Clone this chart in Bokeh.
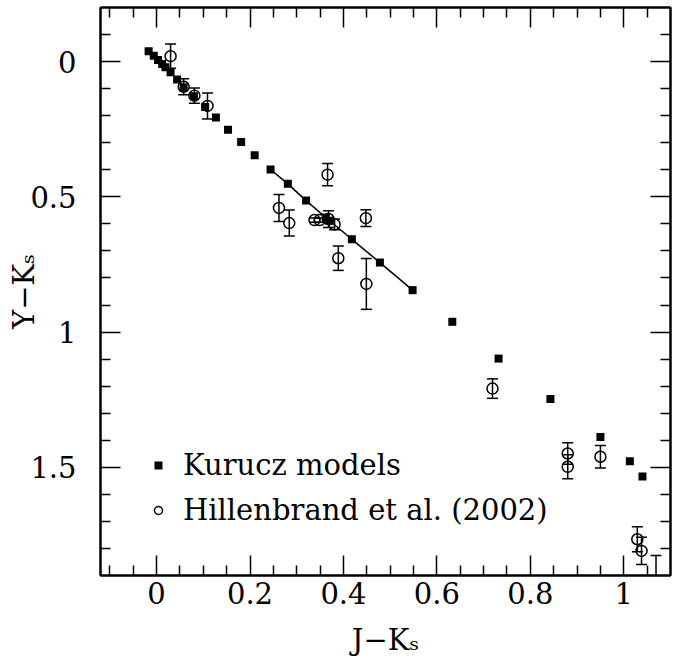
from bokeh.plotting import figure
from bokeh.models import (Range1d, LinearAxis, FixedTicker, Legend, LegendItem)
from bokeh.embed import file_html
from bokeh.resources import INLINE

# ---- data ----
kurucz_jk = [-0.017, -0.006, 0.003, 0.012, 0.019, 0.030, 0.044, 0.058, 0.080, 0.104,
             0.127, 0.153, 0.181, 0.210, 0.244, 0.281, 0.320, 0.362, 0.370, 0.418,
             0.478, 0.548, 0.633, 0.732, 0.843, 0.950, 1.013, 1.040]
kurucz_yk = [-0.038, -0.022, -0.006, 0.009, 0.021, 0.039, 0.066, 0.095, 0.128, 0.168,
             0.207, 0.252, 0.297, 0.346, 0.399, 0.452, 0.514, 0.576, 0.588, 0.657,
             0.743, 0.845, 0.962, 1.098, 1.247, 1.388, 1.478, 1.534]

seq_jk = [0.244, 0.281, 0.320, 0.366, 0.418, 0.478, 0.548]
seq_yk = [0.399, 0.452, 0.514, 0.582, 0.657, 0.743, 0.845]

hill_jk = [0.030, 0.058, 0.081, 0.109, 0.262, 0.284, 0.338, 0.349, 0.368, 0.381,
           0.366, 0.448, 0.389, 0.449, 0.719, 0.880, 0.880, 0.950, 1.029, 1.038, 1.069]
hill_yk = [-0.020, 0.093, 0.126, 0.164, 0.541, 0.597, 0.586, 0.586, 0.582, 0.602,
           0.418, 0.579, 0.727, 0.822, 1.209, 1.449, 1.498, 1.461, 1.766, 1.809, 1.940]
hill_err = [0.045, 0.030, 0.028, 0.048, 0.050, 0.048, 0.008, 0.008, 0.031, 0.020,
            0.041, 0.031, 0.045, 0.094, 0.036, 0.040, 0.044, 0.042, 0.046, 0.050, 0.114]

x_major = [0, 0.2, 0.4, 0.6, 0.8, 1]
x_major_labels = ["0", "0.2", "0.4", "0.6", "0.8", "1"]
x_minor = [-0.1, -0.05, 0.05, 0.1, 0.15, 0.25, 0.3, 0.35, 0.45, 0.5, 0.55, 0.65, 0.7,
           0.75, 0.85, 0.9, 0.95, 1.05]
y_major = [0, 0.5, 1, 1.5]
y_major_labels = ["0", "0.5", "1", "1.5"]
y_minor = [-0.1, 0.1, 0.2, 0.3, 0.4, 0.6, 0.7, 0.8, 0.9, 1.1, 1.2, 1.3, 1.4, 1.6, 1.7, 1.8]

x_title = "J\u2212K\u209b"
y_title = "Y\u2212K\u209b"
kurucz_name = "Kurucz models"
hill_name = "Hillenbrand et al. (2002)"

FONT = "DejaVu Serif"
FS = "29px"

p = figure(frame_width=570, frame_height=568,
           x_range=Range1d(-0.12, 1.10), y_range=Range1d(1.9, -0.2),
           output_backend="svg", toolbar_location=None,
           x_axis_location=None, y_axis_location=None,
           min_border_left=100, min_border_right=13, min_border_top=7, min_border_bottom=86)
p.xgrid.visible = False
p.ygrid.visible = False
p.outline_line_color = "black"
p.outline_line_width = 2
p.background_fill_color = "white"
p.border_fill_color = "white"


def make_axis(ticks, minor, labels, show, standoff, title=None, title_standoff=0):
    ax = LinearAxis(ticker=FixedTicker(ticks=ticks, minor_ticks=minor))
    ax.major_tick_in = 20
    ax.major_tick_out = 0
    ax.minor_tick_in = 10
    ax.minor_tick_out = 0
    ax.major_tick_line_width = 1.5
    ax.minor_tick_line_width = 1.5
    ax.axis_line_width = 2
    ax.major_tick_line_color = "black"
    ax.minor_tick_line_color = "black"
    ax.axis_line_color = "black"
    if show:
        ax.major_label_overrides = {t: l for t, l in zip(ticks, labels)}
        ax.major_label_text_font = FONT
        ax.major_label_text_font_size = FS
        ax.major_label_text_color = "black"
        ax.major_label_standoff = standoff
    else:
        ax.major_label_overrides = {t: "" for t in ticks}
        ax.major_label_standoff = 0
        ax.major_label_text_font_size = "1px"
    if title is not None:
        ax.axis_label = title
        ax.axis_label_text_font = FONT
        ax.axis_label_text_font_size = FS
        ax.axis_label_text_font_style = "normal"
        ax.axis_label_text_color = "black"
        ax.axis_label_standoff = title_standoff
    return ax


p.add_layout(make_axis(x_major, x_minor, x_major_labels, True, 6, x_title, 16), "below")
p.add_layout(make_axis(x_major, x_minor, x_major_labels, False, 0), "above")
p.add_layout(make_axis(y_major, y_minor, y_major_labels, True, 24, y_title, -14), "left")
p.add_layout(make_axis(y_major, y_minor, y_major_labels, False, 0), "right")

# error bars
lower = [y - e for y, e in zip(hill_yk, hill_err)]
upper = [y + e for y, e in zip(hill_yk, hill_err)]
p.segment(x0=hill_jk, y0=lower, x1=hill_jk, y1=upper, line_color="black", line_width=1.5)
p.scatter(x=hill_jk, y=lower, marker="dash", size=11, line_color="black", line_width=1.5)
p.scatter(x=hill_jk, y=upper, marker="dash", size=11, line_color="black", line_width=1.5)

circ = p.scatter(x=hill_jk, y=hill_yk, marker="circle", size=11, fill_color=None,
                 line_color="black", line_width=1.5)

p.line(x=seq_jk, y=seq_yk, line_color="black", line_width=1.5)
sq = p.scatter(x=kurucz_jk, y=kurucz_yk, marker="square", size=8, fill_color="black",
               line_color="black", line_width=0)

legend = Legend(items=[LegendItem(label=kurucz_name, renderers=[sq]),
                       LegendItem(label=hill_name, renderers=[circ])],
                location=(48, 48), padding=0, margin=0, spacing=11,
                glyph_width=20, glyph_height=20, label_standoff=15,
                label_text_font=FONT, label_text_font_size=FS, label_text_color="black",
                border_line_color=None, background_fill_alpha=0)
p.add_layout(legend)

open("out.html", "w").write(file_html(p, INLINE))
